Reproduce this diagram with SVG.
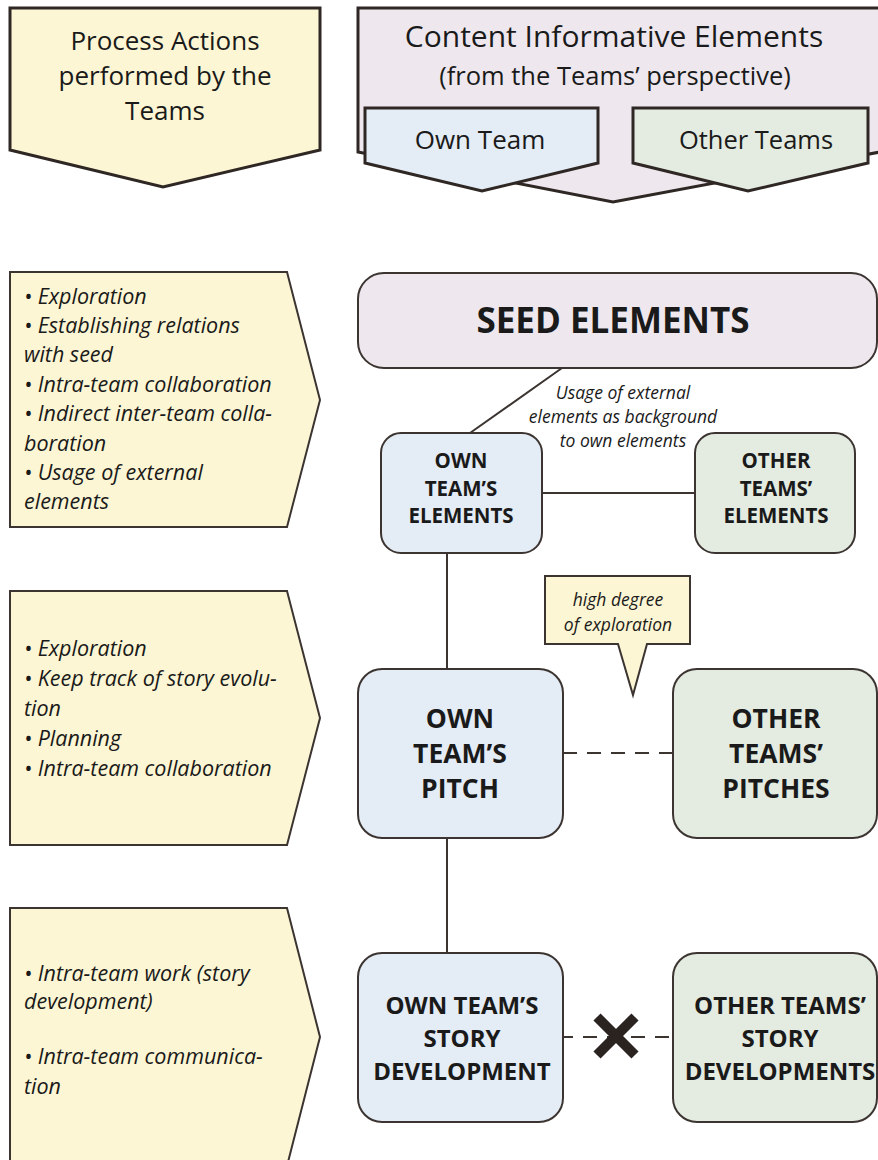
<svg xmlns="http://www.w3.org/2000/svg" width="878" height="1160" viewBox="0 0 878 1160">
<style>
.stk{stroke:#3b3431;stroke-width:2;stroke-linejoin:miter}
.hdr{stroke:#2e2724;stroke-width:3}
.yel{fill:#fcf6d4}
.lav{fill:#eee8ee}
.blu{fill:#e4ecf5}
.grn{fill:#e4ebe1}
.t{font-family:"Open Sans","Noto Sans",sans-serif;fill:#1a1a1a}
.it{font-style:italic}
.b{font-weight:bold}
.c{text-anchor:middle}
.ln{stroke:#3b3431;stroke-width:2;fill:none}
.dash{stroke-dasharray:14 10}
</style>
<g id="hdr-process">
<path class="yel hdr" d="M10 8 H320 V150 L163 187 L10 150 Z"/>
<text class="t c" x="165" y="50" font-size="26">Process Actions</text>
<text class="t c" x="165" y="85" font-size="26">performed by the</text>
<text class="t c" x="165" y="120" font-size="26">Teams</text>
</g>
<g id="hdr-content">
<path class="lav hdr" d="M358 8 H880 V152 L613 202 L358 152 Z"/>
<text class="t c" x="614" y="47" font-size="30">Content Informative Elements</text>
<text class="t c" x="615" y="85" font-size="25.5">(from the Teams’ perspective)</text>
</g>
<g id="hdr-own">
<path class="blu hdr" d="M365 108 H598 V163 L482 191 L365 163 Z"/>
<text class="t c" x="480" y="149" font-size="26">Own Team</text>
</g>
<g id="hdr-other">
<path class="grn hdr" d="M633 108 H868 V163 L748 191 L633 163 Z"/>
<text class="t c" x="756" y="149" font-size="25.5">Other Teams</text>
</g>
<g id="connectors">
<line class="ln" x1="562" y1="368" x2="470" y2="433"/>
<line class="ln" x1="542" y1="493" x2="695" y2="493"/>
<line class="ln" x1="447" y1="553" x2="447" y2="669"/>
<line class="ln dash" x1="563" y1="753" x2="673" y2="753"/>
<line class="ln" x1="447" y1="838" x2="447" y2="953"/>
<line class="ln dash" x1="563" y1="1037" x2="673" y2="1037" stroke-dashoffset="4"/>
<path d="M597 1017 L635 1055 M635 1017 L597 1055" stroke="#2a2320" stroke-width="10" fill="none"/>
<g class="t it c" font-size="17.5">
<text x="623" y="399">Usage of external</text>
<text x="623" y="423">elements as background</text>
<text x="623" y="447">to own elements</text>
</g>
</g>
<g id="actions-1">
<path class="yel stk" d="M10 272 H287 L320 400 L287 527 H10 Z"/>
<g class="t it" font-size="21.5">
<text x="24" y="304">• Exploration</text>
<text x="24" y="333">• Establishing relations</text>
<text x="24" y="362">with seed</text>
<text x="24" y="392">• Intra-team collaboration</text>
<text x="24" y="421">• Indirect inter-team colla-</text>
<text x="24" y="451">boration</text>
<text x="24" y="480">• Usage of external</text>
<text x="24" y="509">elements</text>
</g>
</g>
<g id="actions-2">
<path class="yel stk" d="M10 591 H287 L320 718 L287 845 H10 Z"/>
<g class="t it" font-size="21.5">
<text x="24" y="656">• Exploration</text>
<text x="24" y="686">• Keep track of story evolu-</text>
<text x="24" y="716">tion</text>
<text x="24" y="746">• Planning</text>
<text x="24" y="776">• Intra-team collaboration</text>
</g>
</g>
<g id="actions-3">
<path class="yel stk" d="M10 908 H287 L320 1037 L287 1166 H10 Z"/>
<g class="t it" font-size="21.5">
<text x="24" y="981">• Intra-team work (story</text>
<text x="24" y="1009">development)</text>
<text x="24" y="1064">• Intra-team communica-</text>
<text x="24" y="1094">tion</text>
</g>
</g>
<g id="seed">
<rect class="lav stk" x="358" y="273" width="519" height="95" rx="26"/>
<text class="t b c" x="613" y="333" font-size="35">SEED ELEMENTS</text>
</g>
<g id="own-elements">
<rect class="blu stk" x="381" y="433" width="161" height="120" rx="20"/>
<g class="t b c" font-size="20.5">
<text x="461" y="468">OWN</text>
<text x="461" y="496">TEAM’S</text>
<text x="461" y="523">ELEMENTS</text>
</g>
</g>
<g id="other-elements">
<rect class="grn stk" x="695" y="433" width="160" height="120" rx="20"/>
<g class="t b c" font-size="20.5">
<text x="776" y="468">OTHER</text>
<text x="776" y="496">TEAMS’</text>
<text x="776" y="523">ELEMENTS</text>
</g>
</g>
<g id="callout">
<path class="yel stk" d="M545 576 H690 V644 H647 L633 695 L618 644 H545 Z"/>
<g class="t it c" font-size="17.5">
<text x="618" y="606">high degree</text>
<text x="618" y="631">of exploration</text>
</g>
</g>
<g id="own-pitch">
<rect class="blu stk" x="358" y="669" width="205" height="169" rx="24"/>
<g class="t b c" font-size="26.5">
<text x="460" y="728">OWN</text>
<text x="460" y="763">TEAM’S</text>
<text x="460" y="798">PITCH</text>
</g>
</g>
<g id="other-pitches">
<rect class="grn stk" x="673" y="669" width="204" height="169" rx="24"/>
<g class="t b c" font-size="26.5">
<text x="776" y="728">OTHER</text>
<text x="776" y="763">TEAMS’</text>
<text x="776" y="798">PITCHES</text>
</g>
</g>
<g id="own-story">
<rect class="blu stk" x="358" y="953" width="205" height="169" rx="24"/>
<g class="t b c" font-size="24">
<text x="462" y="1014">OWN TEAM’S</text>
<text x="462" y="1047">STORY</text>
<text x="462" y="1080">DEVELOPMENT</text>
</g>
</g>
<g id="other-story">
<rect class="grn stk" x="673" y="953" width="204" height="169" rx="24"/>
<g class="t b c" font-size="24">
<text x="780" y="1014">OTHER TEAMS’</text>
<text x="780" y="1047">STORY</text>
<text x="780" y="1080">DEVELOPMENTS</text>
</g>
</g>
</svg>
